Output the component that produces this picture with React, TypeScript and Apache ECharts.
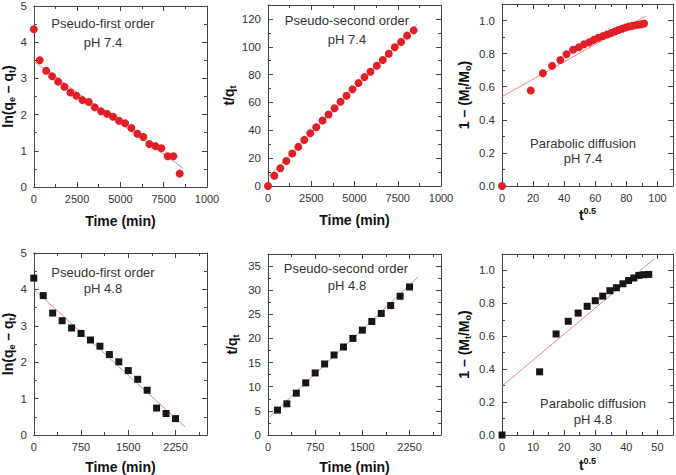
import React, { useEffect, useRef } from "react";
import * as echarts from "echarts";

// ---------- data ----------
// pH 7.4, pseudo-first order
const t74First = [0, 346, 712, 1058, 1404, 1769, 2115, 2462, 2808, 3173, 3519, 3885, 4231, 4577, 4923, 5269, 5635, 5981, 6327, 6673, 7019, 7365, 7731, 8058, 8423];
const ln74 = [4.36, 3.5, 3.21, 3.06, 2.91, 2.77, 2.61, 2.52, 2.4, 2.35, 2.2, 2.09, 2.02, 1.94, 1.83, 1.76, 1.63, 1.47, 1.38, 1.19, 1.13, 1.07, 0.85, 0.85, 0.37];
const fit74First = [[0, 3.47], [8615, 0.52]];
// pH 7.4, pseudo-second order
const t74Second = [0, 365, 712, 1058, 1404, 1750, 2096, 2442, 2788, 3154, 3500, 3846, 4192, 4538, 4885, 5231, 5577, 5923, 6288, 6635, 6981, 7327, 7692, 8038, 8423];
const tq74 = [0, 7.4, 12.7, 18.0, 23.3, 28.1, 33.1, 37.9, 42.2, 47.0, 51.4, 55.9, 60.5, 64.8, 69.4, 73.9, 78.2, 82.1, 86.4, 90.5, 95.0, 99.6, 103.4, 108.0, 111.8];
const fit74Second = [[0, 6.2], [8654, 116.6]];
// pH 7.4, parabolic diffusion
const sqrt74 = [0, 18.5, 26.3, 32.2, 37.5, 41.5, 45.7, 49.5, 52.8, 56, 59, 62, 65, 67.7, 70.2, 72.6, 75, 77.3, 79.5, 81.7, 83.8, 85.8, 87.9, 89.8, 91.4];
const frac74 = [0, 0.577, 0.681, 0.726, 0.762, 0.796, 0.823, 0.839, 0.857, 0.868, 0.883, 0.896, 0.907, 0.916, 0.925, 0.934, 0.943, 0.95, 0.958, 0.964, 0.968, 0.972, 0.975, 0.978, 0.982];
const fit74Para = [[0, 0.54], [92.6, 1.028]];
// pH 4.8, pseudo-first order
const t48First = [0, 150, 300, 450, 600, 750, 900, 1050, 1200, 1350, 1500, 1650, 1800, 1950, 2100, 2250];
const ln48 = [4.31, 3.83, 3.35, 3.14, 2.94, 2.79, 2.61, 2.44, 2.21, 2.01, 1.77, 1.53, 1.23, 0.74, 0.59, 0.45];
const fit48First = [[0, 4.0], [2404, 0.22]];
// pH 4.8, pseudo-second order
const t48Second = [150, 300, 450, 600, 750, 900, 1050, 1200, 1350, 1500, 1650, 1800, 1950, 2100, 2250];
const tq48 = [5.16, 6.46, 8.67, 10.8, 12.86, 14.72, 16.58, 18.23, 20.01, 21.73, 23.52, 25.17, 26.82, 28.75, 30.67];
const fit48Second = [[0, 3.44], [2389, 32.8]];
// pH 4.8, parabolic diffusion
const sqrt48 = [0, 12.1, 17.4, 21.3, 24.5, 27.4, 30.0, 32.4, 34.7, 36.8, 38.9, 40.7, 42.4, 44.0, 45.6, 47.2];
const frac48 = [0, 0.384, 0.614, 0.691, 0.741, 0.782, 0.816, 0.844, 0.877, 0.895, 0.919, 0.939, 0.954, 0.97, 0.974, 0.976];
const fit48Para = [[0, 0.297], [48.9, 1.07]];

// tick labels
const timeTicksTop = [0, 2500, 5000, 7500, 10000];
const timeTickLabelsTop = ["0", "2500", "5000", "7500", "1000"];
const timeTicksBottom = [0, 750, 1500, 2250];
const timeTickLabelsBottom = ["0", "750", "1500", "2250"];
const sqrtTicksTop = [0, 20, 40, 60, 80, 100];
const sqrtTicksBottom = [0, 10, 20, 30, 40, 50];
const lnTicks = [0, 1, 2, 3, 4, 5];
const tqTicksTop = [0, 20, 40, 60, 80, 100, 120];
const tqTicksBottom = [0, 5, 10, 15, 20, 25, 30, 35];
const fracTicks = [0, 0.2, 0.4, 0.6, 0.8, 1.0];
const fracTickLabels = ["0.0", "0.2", "0.4", "0.6", "0.8", "1.0"];

const FONT = '"Liberation Sans", Arial, sans-serif';
const NARROW = '"Liberation Sans Narrow", "Liberation Sans", Arial, sans-serif';
const AXIS_COLOR = "#454545";
const RED = "#e21f27";
const FIT_RED = "#e8666b";
const BLACK = "#161616";

const pair = (xs: number[], ys: number[]) => xs.map((x, i) => [x, ys[i]]);

const labelFrom = (ticks: number[], labels?: string[]) => (v: number) => {
  const i = ticks.findIndex((t) => Math.abs(t - v) < 1e-6);
  if (i < 0) return "";
  return labels ? labels[i] : String(ticks[i]);
};

const richName = {
  n: { fontSize: 14, fontWeight: "bold", color: "#111", fontFamily: FONT },
  s: { fontSize: 9, fontWeight: "bold", color: "#111", fontFamily: FONT, padding: [8, 0, 0, 0] },
  u: { fontSize: 9, fontWeight: "bold", color: "#111", fontFamily: FONT, padding: [0, 0, 8, 0] },
};

function xAxes(gi: number, min: number, max: number, interval: number, formatter: any, name: string, nameGap: number) {
  const common = {
    type: "value",
    gridIndex: gi,
    min,
    max,
    interval,
    splitLine: { show: false },
    axisLine: { show: true, onZero: false, lineStyle: { color: AXIS_COLOR, width: 1 } },
    axisTick: { show: true, inside: true, length: 5, lineStyle: { color: AXIS_COLOR } },
    minorTick: { show: true, splitNumber: 2, length: 3, lineStyle: { color: AXIS_COLOR } },
  };
  return [
    {
      ...common,
      position: "bottom",
      axisLabel: { formatter, fontSize: 11, color: "#333", margin: 6, fontFamily: NARROW, hideOverlap: false },
      name,
      nameLocation: "middle",
      nameGap,
      nameTextStyle: { fontSize: 14, fontWeight: "bold", color: "#111", fontFamily: FONT, rich: richName },
    },
    { ...common, position: "top", axisLabel: { show: false } },
  ];
}

function yAxes(gi: number, min: number, max: number, interval: number, formatter: any, name: string, nameGap: number) {
  const common = {
    type: "value",
    gridIndex: gi,
    min,
    max,
    interval,
    splitLine: { show: false },
    axisLine: { show: true, onZero: false, lineStyle: { color: AXIS_COLOR, width: 1 } },
    axisTick: { show: true, inside: true, length: 5, lineStyle: { color: AXIS_COLOR } },
    minorTick: { show: true, splitNumber: 2, length: 3, lineStyle: { color: AXIS_COLOR } },
  };
  return [
    {
      ...common,
      position: "left",
      axisLabel: { formatter, fontSize: 11.5, color: "#333", margin: 7, fontFamily: FONT },
      name,
      nameLocation: "middle",
      nameRotate: 90,
      nameGap,
      nameTextStyle: { fontSize: 14, fontWeight: "bold", color: "#111", fontFamily: FONT, rich: richName },
    },
    { ...common, position: "right", axisLabel: { show: false } },
  ];
}

export default function App() {
  const ref = useRef<HTMLDivElement>(null);
  useEffect(() => {
    document.body.style.margin = "0";
    const chart = echarts.init(ref.current!, null, { renderer: "svg" });

    const grids = [
      { left: 33, top: 5, width: 174, height: 182 },
      { left: 268, top: 5, width: 173, height: 181 },
      { left: 502, top: 4, width: 172, height: 182 },
      { left: 33, top: 253, width: 174, height: 183 },
      { left: 268, top: 254, width: 173, height: 182 },
      { left: 502, top: 254, width: 172, height: 181 },
    ];

    const xs: any[] = [
      ...xAxes(0, 0, 10000, 2500, labelFrom(timeTicksTop, timeTickLabelsTop), "Time (min)", 27),
      ...xAxes(1, 0, 10000, 2500, labelFrom(timeTicksTop, timeTickLabelsTop), "Time (min)", 27),
      ...xAxes(2, 0, 110, 20, labelFrom(sqrtTicksTop), "{n|t}{u|0.5}", 20),
      ...xAxes(3, 0, 2750, 750, labelFrom(timeTicksBottom, timeTickLabelsBottom), "Time (min)", 25),
      ...xAxes(4, 0, 2750, 750, labelFrom(timeTicksBottom, timeTickLabelsBottom), "Time (min)", 25),
      ...xAxes(5, 0, 55, 10, labelFrom(sqrtTicksBottom), "{n|t}{u|0.5}", 21),
    ];
    const ys: any[] = [
      ...yAxes(0, 0, 5, 1, labelFrom(lnTicks), "{n|ln(q}{s|e}{n| – q}{s|t}{n|)}", 14),
      ...yAxes(1, 0, 130, 20, labelFrom(tqTicksTop), "{n|t/q}{s|t}", 28),
      ...yAxes(2, 0, 1.1, 0.2, labelFrom(fracTicks, fracTickLabels), "{n|1 – (M}{s|t}{n|/M}{s|o}{n|)}", 30),
      ...yAxes(3, 0, 5, 1, labelFrom(lnTicks), "{n|ln(q}{s|e}{n| – q}{s|t}{n|)}", 16),
      ...yAxes(4, 0, 37.5, 5, labelFrom(tqTicksBottom), "{n|t/q}{s|t}", 28),
      ...yAxes(5, 0, 1.1, 0.2, labelFrom(fracTicks, fracTickLabels), "{n|1 – (M}{s|t}{n|/M}{s|o}{n|)}", 30),
    ];

    const panels = [
      { pts: pair(t74First, ln74), fit: fit74First, sym: "circle", color: RED, size: 8 },
      { pts: pair(t74Second, tq74), fit: fit74Second, sym: "circle", color: RED, size: 8 },
      { pts: pair(sqrt74, frac74), fit: fit74Para, sym: "circle", color: RED, size: 8 },
      { pts: pair(t48First, ln48), fit: fit48First, sym: "rect", color: BLACK, size: 7 },
      { pts: pair(t48Second, tq48), fit: fit48Second, sym: "rect", color: BLACK, size: 7 },
      { pts: pair(sqrt48, frac48), fit: fit48Para, sym: "rect", color: BLACK, size: 7 },
    ];

    const series: any[] = [];
    panels.forEach((p, i) => {
      series.push({
        type: "line",
        xAxisIndex: i * 2,
        yAxisIndex: i * 2,
        data: p.fit,
        symbol: "none",
        lineStyle: { color: FIT_RED, width: 0.8 },
        z: 2,
        silent: true,
      });
      series.push({
        type: "scatter",
        xAxisIndex: i * 2,
        yAxisIndex: i * 2,
        data: p.pts,
        symbol: p.sym,
        symbolSize: p.size,
        itemStyle: { color: p.color, opacity: 1 },
        z: 3,
      });
    });

    const ann = (text: string, x: number, y: number) => ({
      type: "text",
      x,
      y,
      style: { text, fontSize: 13, fill: "#333", fontFamily: FONT, align: "center", verticalAlign: "middle" },
      z: 10,
    });

    chart.setOption({
      animation: false,
      backgroundColor: "#fff",
      grid: grids,
      xAxis: xs,
      yAxis: ys,
      series,
      graphic: [
        ann("Pseudo-first order", 103, 23),
        ann("pH 7.4", 103, 42),
        ann("Pseudo-second order", 347, 20),
        ann("pH 7.4", 347, 39),
        ann("Parabolic diffusion", 583, 143),
        ann("pH 7.4", 583, 158),
        ann("Pseudo-first order", 103, 272),
        ann("pH 4.8", 103, 288),
        ann("Pseudo-second order", 346, 268),
        ann("pH 4.8", 347, 285),
        ann("Parabolic diffusion", 593, 403),
        ann("pH 4.8", 593, 419),
      ],
    });
    return () => chart.dispose();
  }, []);
  return <div ref={ref} style={{ width: 676, height: 475, position: "absolute", left: 0, top: 0 }} />;
}
